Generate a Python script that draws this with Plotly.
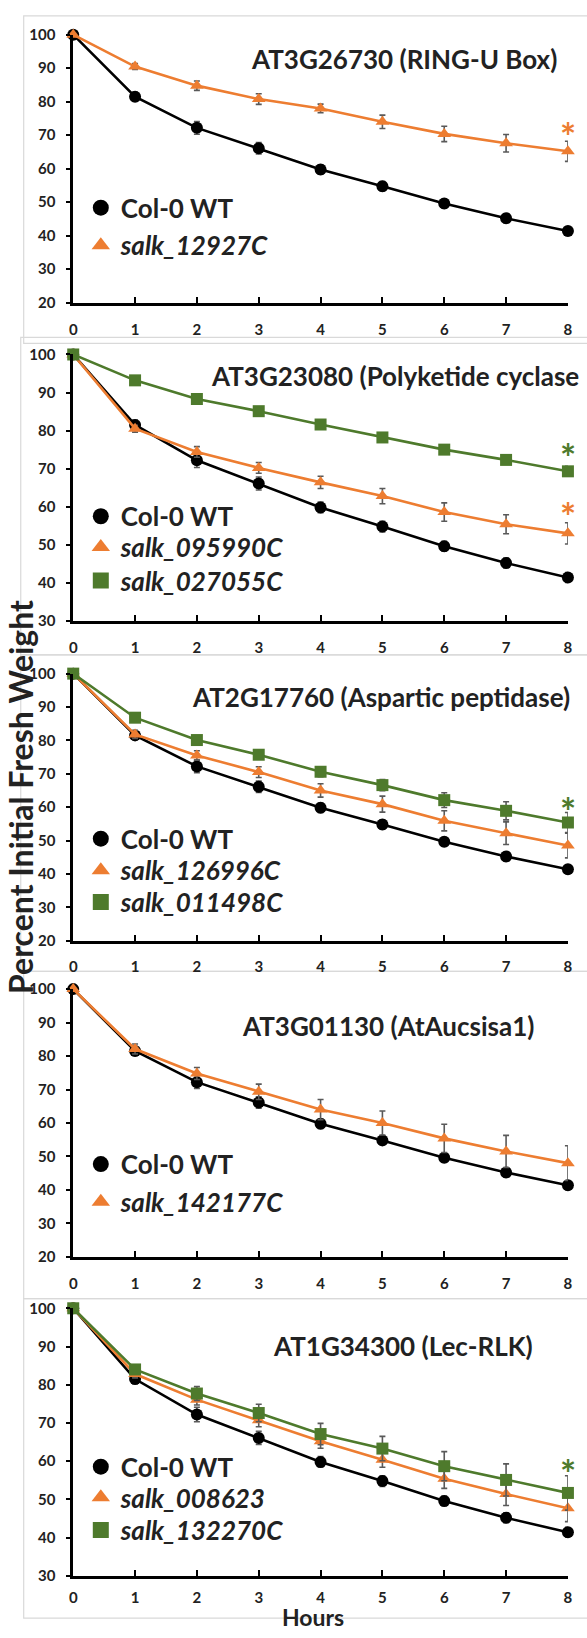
import plotly.graph_objects as go

# ---------------- data ----------------
hours = [0, 1, 2, 3, 4, 5, 6, 7, 8]
x_ticks = [0, 1, 2, 3, 4, 5, 6, 7, 8]

col0 = [100, 81.5, 72.2, 66.1, 59.8, 54.8, 49.6, 45.2, 41.4]
col0_err = [0, 1.3, 1.9, 1.7, 1.4, 1.4, 1.3, 1.3, 1.3]

p1_salk_12927C = [100, 90.5, 84.8, 80.8, 78.0, 74.0, 70.4, 67.6, 65.2]
p1_salk_12927C_err = [0, 0.9, 1.4, 1.6, 1.3, 2.0, 2.3, 2.6, 3.0]

p2_salk_095990C = [100, 80.5, 74.4, 70.2, 66.4, 62.8, 58.6, 55.4, 53.0]
p2_salk_095990C_err = [0, 0.9, 1.4, 1.4, 1.6, 2.0, 2.4, 2.5, 2.8]
p2_salk_027055C = [100, 93.2, 88.3, 85.1, 81.6, 78.2, 75.0, 72.3, 69.3]
p2_salk_027055C_err = [0, 0.6, 0.7, 0.7, 0.7, 0.8, 0.8, 1.0, 1.3]

p3_salk_126996C = [100, 81.8, 75.5, 70.5, 65.0, 60.9, 55.9, 52.2, 48.5]
p3_salk_126996C_err = [0, 1.2, 1.4, 1.6, 2.0, 2.4, 3.0, 3.4, 3.7]
p3_salk_011498C = [100, 86.8, 80.1, 75.7, 70.6, 66.6, 62.1, 58.9, 55.4]
p3_salk_011498C_err = [0, 0.6, 0.8, 1.0, 1.5, 1.7, 2.2, 2.7, 3.0]

p4_salk_142177C = [100, 82.1, 74.8, 69.3, 64.0, 60.0, 55.4, 51.5, 48.0]
p4_salk_142177C_err = [0, 1.5, 1.8, 2.3, 3.0, 3.6, 4.2, 4.8, 5.2]

p5_salk_008623 = [100, 82.8, 76.1, 70.7, 65.2, 60.4, 55.4, 51.4, 47.7]
p5_salk_008623_err = [0, 1.0, 1.4, 1.7, 1.8, 2.0, 2.5, 3.0, 3.5]
p5_salk_132270C = [100, 84.0, 77.7, 72.6, 67.1, 63.3, 58.7, 55.1, 51.7]
p5_salk_132270C_err = [0, 1.0, 1.8, 2.3, 2.8, 3.2, 3.8, 4.2, 4.5]

panel_titles = [
    "AT3G26730 (RING-U Box)",
    "AT3G23080 (Polyketide cyclase",
    "AT2G17760 (Aspartic peptidase)",
    "AT3G01130 (AtAucsisa1)",
    "AT1G34300 (Lec-RLK)",
]
y_ranges = [[20, 100], [30, 100], [20, 100], [20, 100], [30, 100]]

# (panel, name, values, errors, style)
series = [
    (1, "Col-0 WT", col0, col0_err, "wt"),
    (1, "salk_12927C", p1_salk_12927C, p1_salk_12927C_err, "orange"),
    (2, "Col-0 WT", col0, col0_err, "wt"),
    (2, "salk_095990C", p2_salk_095990C, p2_salk_095990C_err, "orange"),
    (2, "salk_027055C", p2_salk_027055C, p2_salk_027055C_err, "green"),
    (3, "Col-0 WT", col0, col0_err, "wt"),
    (3, "salk_126996C", p3_salk_126996C, p3_salk_126996C_err, "orange"),
    (3, "salk_011498C", p3_salk_011498C, p3_salk_011498C_err, "green"),
    (4, "Col-0 WT", col0, col0_err, "wt"),
    (4, "salk_142177C", p4_salk_142177C, p4_salk_142177C_err, "orange"),
    (5, "Col-0 WT", col0, col0_err, "wt"),
    (5, "salk_008623", p5_salk_008623, p5_salk_008623_err, "orange"),
    (5, "salk_132270C", p5_salk_132270C, p5_salk_132270C_err, "green"),
]

# significance asterisks: (panel, x, y, style)
asterisks = [
    (1, 8, 71.9, "orange"),
    (2, 8, 75.0, "green"),
    (2, 8, 59.5, "orange"),
    (3, 8, 61.0, "green"),
    (5, 8, 59.0, "green"),
]

# ---------------- styling / layout ----------------
W, H = 587, 1638
FONT = "Lato"
TXT = "#222222"
COLORS = {"wt": "#000000", "orange": "#ED7D31", "green": "#4E7A2C"}
SYMBOLS = {"wt": "circle", "orange": "triangle-up", "green": "square"}

# pixel layout of each panel: (y px of top value, y px of bottom value)
panel_px = [(25, 296), (348.3, 617.7), (671, 941), (990, 1260.7), (1312.7, 1583.3)]
x_px = (70.3, 572.7)
x_label_standoff = [11, 11, 11, 11, 6]
# legend rows: y pixel centre of each entry, in series order
legend_row_px = [200, 238, 512, 543, 577, 838, 870, 902, 1167, 1205, 1473, 1504, 1537]
legend_left_px = 78
title_px = [(249, 50), (208, 370), (189, 695), (240, 1027), (271, 1351)]
border_px = [(20, 6, 337), (17, 331, 652), (17, 652, 972), (20, 972, 1303), (20, 1303, 1626)]


def fy(p):
    return 1 - p / H


def fx(p):
    return p / W


fig = go.Figure()

for k, (panel, name, vals, errs, style) in enumerate(series):
    ax = "" if panel == 1 else str(panel)
    fig.add_trace(go.Scatter(
        x=hours, y=vals, mode="lines+markers",
        xaxis="x" + ax, yaxis="y" + ax,
        line=dict(color=COLORS[style], width=2.6),
        marker=dict(color=COLORS[style], symbol=SYMBOLS[style], size=12,
                    line=dict(width=0)),
        error_y=dict(type="data", array=errs, visible=True, color="#595959",
                     thickness=1.6, width=3),
        cliponaxis=False, showlegend=False, hoverinfo="skip",
    ))
    # legend entry (markers only, like the original)
    leg = "legend" if k == 0 else "legend" + str(k + 1)
    label = name if style == "wt" else "<i>" + name + "</i>"
    fig.add_trace(go.Scatter(
        x=[None], y=[None], mode="markers", name=label,
        xaxis="x" + ax, yaxis="y" + ax, legend=leg,
        marker=dict(color=COLORS[style], symbol=SYMBOLS[style], size=18,
                    line=dict(width=0)),
        showlegend=True,
    ))

layout = dict(
    width=W, height=H, margin=dict(l=0, r=0, t=0, b=0),
    paper_bgcolor="white", plot_bgcolor="white",
    font=dict(family=FONT, color=TXT),
    shapes=[], annotations=[],
)

for k in range(len(series)):
    leg = "legend" if k == 0 else "legend" + str(k + 1)
    layout[leg] = dict(
        x=fx(legend_left_px), y=fy(legend_row_px[k]), xanchor="left", yanchor="middle",
        bgcolor="rgba(0,0,0,0)", borderwidth=0,
        font=dict(family=FONT, size=26, color=TXT, weight="bold"),
        itemsizing="trace",
    )

for i in range(5):
    n = i + 1
    suf = "" if n == 1 else str(n)
    top, bot = panel_px[i]
    layout["xaxis" + suf] = dict(
        domain=[fx(x_px[0]), fx(x_px[1])], range=[0, 8], anchor="y" + suf,
        tickvals=x_ticks, ticktext=[str(t) for t in x_ticks],
        showline=True, linecolor="black", linewidth=2.6,
        ticks="inside", ticklen=6, tickwidth=2, tickcolor="black",
        showgrid=False, zeroline=False, fixedrange=True,
        tickfont=dict(family=FONT, size=15, color=TXT, weight="bold"),
        ticklabelstandoff=x_label_standoff[i],
    )
    layout["yaxis" + suf] = dict(
        domain=[fy(bot), fy(top)], range=y_ranges[i], anchor="x" + suf,
        dtick=10, showline=True, linecolor="black", linewidth=2.6,
        ticks="outside", ticklen=4, tickwidth=1.5, tickcolor="black",
        showgrid=False, zeroline=False, fixedrange=True,
        tickfont=dict(family=FONT, size=15, color=TXT, weight="bold"),
        ticklabelstandoff=8,
    )
    tx, ty = title_px[i]
    layout["annotations"].append(dict(
        text=panel_titles[i], xref="paper", yref="paper",
        x=fx(tx), y=fy(ty), xanchor="left", yanchor="middle", showarrow=False,
        font=dict(family=FONT, size=26, color=TXT, weight="bold"),
    ))
    bx, btop, bbot = border_px[i]
    layout["shapes"].append(dict(
        type="rect", xref="paper", yref="paper", layer="below",
        x0=fx(bx), x1=fx(W + 20), y0=fy(bbot), y1=fy(btop),
        line=dict(color="#D9D9D9", width=1.2), fillcolor="rgba(0,0,0,0)",
    ))

AST = 38
for panel, x, y, style in asterisks:
    suf = "" if panel == 1 else str(panel)
    layout["annotations"].append(dict(
        text="*", xref="x" + suf, yref="y" + suf, x=x, y=y,
        xanchor="center", yanchor="middle", showarrow=False, yshift=-0.2 * AST,
        font=dict(family=FONT, size=AST, color=COLORS[style], weight="bold"),
    ))

layout["annotations"].append(dict(
    text="Percent Initial Fresh Weight", xref="paper", yref="paper",
    x=fx(17), y=fy(796), xanchor="center", yanchor="middle", textangle=-90,
    showarrow=False, font=dict(family=FONT, size=32, color=TXT, weight="bold"),
))
layout["annotations"].append(dict(
    text="Hours", xref="paper", yref="paper",
    x=fx(314), y=0, xanchor="center", yanchor="bottom", yshift=-3,
    showarrow=False, font=dict(family=FONT, size=23, color=TXT, weight="bold"),
))

fig.update_layout(**layout)
fig.write_html("out.html")
